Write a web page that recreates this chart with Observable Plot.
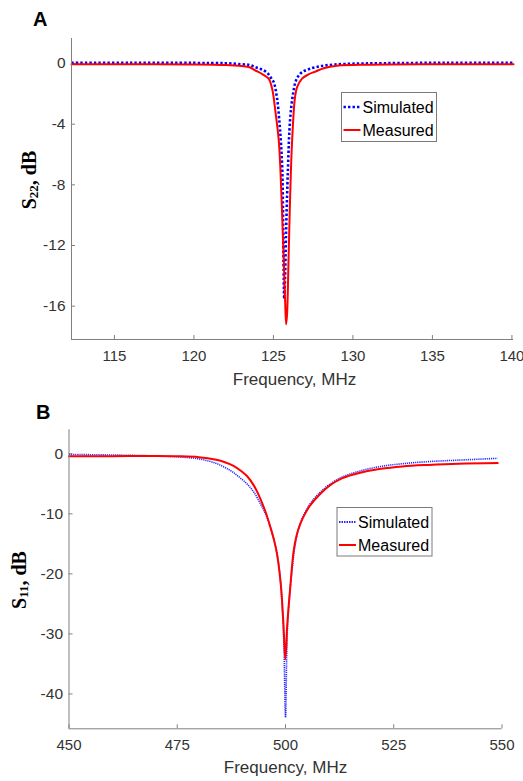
<!DOCTYPE html>
<html><head><meta charset="utf-8">
<script src="https://cdn.jsdelivr.net/npm/d3@7"></script>
<script src="https://cdn.jsdelivr.net/npm/@observablehq/plot@0.6"></script>
<style>
body{margin:0;background:#fff;}
#wrap{position:relative;width:523px;height:781px;overflow:hidden;background:#fff;}
#wrap svg{display:block;}
</style></head><body><div id="wrap"></div>
<script>
// ---------- Panel A data (S22) ----------
const aXTicks = [115, 120, 125, 130, 135, 140];
const aYTicks = [0, -4, -8, -12, -16];
const aSimFreq = [112.3, 116, 120, 122, 123, 123.5, 123.87, 124.2, 124.6, 124.85, 125.02, 125.23, 125.38, 125.47, 125.55, 125.6, 125.63, 125.68, 125.72, 125.8, 125.88, 125.93, 125.98, 126.05, 126.13, 126.25, 126.38, 126.55, 126.8, 127.2, 127.64, 128.3, 129.5, 132, 136, 140.1];
const aSim = [0.05, 0.05, 0.04, 0.02, -0.05, -0.1, -0.24, -0.36, -0.6, -0.95, -1.23, -2.3, -3.9, -5.2, -6.8, -9.5, -12.5, -15.5, -14.5, -11, -8, -6.5, -5.0, -3.7, -2.8, -1.9, -1.23, -0.85, -0.57, -0.38, -0.24, -0.12, -0.03, 0.02, 0.05, 0.05];
const aMeasFreq = [112.3, 116, 120, 122, 123, 123.5, 123.87, 124.3, 124.7, 124.92, 125.13, 125.33, 125.44, 125.55, 125.65, 125.73, 125.8, 125.86, 125.95, 126.02, 126.1, 126.18, 126.35, 126.49, 126.8, 127.2, 127.64, 128.17, 129, 131, 135, 140.1];
const aMeas = [-0.05, -0.05, -0.06, -0.1, -0.17, -0.25, -0.46, -0.7, -1.0, -1.67, -3.2, -5.0, -7.0, -10, -13, -15.5, -17.2, -16.5, -13, -10, -7.1, -5.0, -2.3, -1.56, -1.0, -0.72, -0.53, -0.31, -0.15, -0.08, -0.05, -0.05];

// ---------- Panel B data (S11) ----------
const bXTicks = [450, 475, 500, 525, 550];
const bYTicks = [0, -10, -20, -30, -40];
const bSimFreq = [450, 460, 470, 475, 480, 484, 487.3, 489, 491.1, 492.7, 494.2, 495.5, 496.5, 497.4, 498.05, 498.7, 499.2, 499.6, 500.0, 500.4, 500.9, 501.5, 502.2, 503.2, 504.5, 506, 508, 510, 513, 517, 522, 527, 533, 540, 549];
const bSim = [-0.1, -0.2, -0.35, -0.5, -0.85, -1.6, -2.8, -3.7, -5.0, -6.4, -8.3, -10.2, -12.2, -14.5, -16.7, -20, -25, -31, -43.9, -30, -24, -19.45, -15.3, -12, -9.8, -8.0, -6.4, -5.2, -3.9, -2.9, -2.1, -1.65, -1.3, -1.05, -0.75];
const bMeasFreq = [450, 460, 470, 475, 480, 484, 486, 488, 490, 491.1, 492.7, 494.2, 495.5, 496.5, 497.4, 498.05, 498.97, 499.5, 499.96, 500.4, 501.1, 501.9, 502.6, 503.4, 504.5, 505.7, 508, 510, 513, 517, 522, 527, 533, 540, 549];
const bMeas = [-0.4, -0.4, -0.35, -0.4, -0.56, -1.0, -1.4, -2.0, -3.0, -3.7, -5.3, -7.5, -9.9, -12.2, -14.5, -16.7, -22.2, -28, -34.2, -28.5, -22.2, -16.1, -13.5, -11.7, -10, -8.6, -6.7, -5.4, -4.1, -3.2, -2.5, -2.1, -1.85, -1.65, -1.55];

const seriesNames = ["Simulated", "Measured"];
const xLabelText = "Frequency, MHz";

const textColor = "#333";
const axisColor = "#808080";

function rows(fs, vs) { return fs.map((f, i) => ({f, v: vs[i]})); }

function panel(cfg) {
  const {width, height, margins, xDomain, yDomain, xTicks, yTicks, sim, meas, simStyle, measStyle} = cfg;
  const [mt, mr, mb, ml] = margins;
  const innerW = width - ml - mr, innerH = height - mt - mb;
  return Plot.plot({
    width, height, marginTop: mt, marginRight: mr, marginBottom: mb, marginLeft: ml,
    x: {domain: xDomain},
    y: {domain: yDomain},
    style: {fontFamily: "'Liberation Sans', Arial, sans-serif", fontSize: "15px", color: textColor, background: "white", overflow: "visible"},
    marks: [
      Plot.ruleX(xTicks, {stroke: axisColor, insetTop: innerH - 4}),
      Plot.ruleY(yTicks, {stroke: axisColor, insetRight: innerW - 4}),
      Plot.axisX(xTicks, {tickSize: 0, tickPadding: 11, label: null, fontSize: 15, fill: textColor, tickFormat: d => String(d)}),
      Plot.axisY(yTicks, {tickSize: 0, tickPadding: 6, label: null, fontSize: 15.5, fill: textColor, tickFormat: d => String(d)}),
      Plot.line(sim, {x: "f", y: "v", curve: "catmull-rom", strokeLinecap: "butt", strokeLinejoin: "round", ...simStyle}),
      Plot.line(meas, {x: "f", y: "v", curve: "catmull-rom", strokeLinejoin: "round", ...measStyle}),
      Plot.ruleX([xDomain[0]], {stroke: axisColor, strokeWidth: 1}),
      Plot.ruleY([yDomain[0]], {stroke: axisColor, strokeWidth: 1})
    ]
  });
}

function decorate(svgEl, d) {
  const svg = d3.select(svgEl);
  // panel letter
  svg.append("text").attr("x", d.letter[0]).attr("y", d.letter[1]).attr("text-anchor", "start")
    .attr("font-family", "'Liberation Sans', Arial, sans-serif").attr("font-weight", "bold")
    .attr("font-size", 20).attr("fill", "#000").text(d.letterText);
  // x label
  svg.append("text").attr("x", d.xLab[0]).attr("y", d.xLab[1])
    .attr("text-anchor", "middle").attr("font-family", "'Liberation Sans', Arial, sans-serif")
    .attr("font-size", 17).attr("fill", textColor).text(xLabelText);
  // y label with subscript
  const yl = svg.append("text")
    .attr("transform", `translate(${d.yLab[0]},${d.yLab[1]}) rotate(-90)`)
    .attr("text-anchor", "middle").attr("dominant-baseline", "central")
    .attr("font-family", "'Liberation Serif', 'Times New Roman', serif").attr("font-weight", "bold")
    .attr("font-size", 20).attr("fill", "#000");
  yl.append("tspan").text("S");
  yl.append("tspan").attr("font-size", 13).attr("dy", 4).text(d.sub);
  yl.append("tspan").attr("dy", -4).text(", dB");
  // legend
  const [lx, ly, lw, lh] = d.legend;
  const g = svg.append("g").attr("text-anchor", "start");
  g.append("rect").attr("x", lx).attr("y", ly).attr("width", lw).attr("height", lh)
    .attr("fill", "white").attr("stroke", "#7a7a7a").attr("stroke-width", 1);
  const styles = [d.simStyle, d.measStyle];
  seriesNames.forEach((name, i) => {
    const cy = d.legendRows[i];
    g.append("line").attr("x1", lx + 2).attr("x2", lx + 19).attr("y1", cy).attr("y2", cy)
      .attr("stroke", styles[i].stroke).attr("stroke-width", styles[i].legendWidth)
      .attr("stroke-dasharray", styles[i].legendDash || null);
    g.append("text").attr("x", lx + 21).attr("y", cy).attr("dominant-baseline", "central")
      .attr("text-anchor", "start")
      .attr("font-family", "'Liberation Sans', Arial, sans-serif").attr("font-size", 16)
      .attr("fill", "#000").text(name);
  });
}

const wrap = document.getElementById("wrap");

const aSimStyle = {stroke: "#0000ff", strokeWidth: 2.6, strokeDasharray: "2.4,2.1"};
const aMeasStyle = {stroke: "#ff0000", strokeWidth: 2};
const A = panel({
  width: 523, height: 390, margins: [38, 10, 51, 71],
  xDomain: [112.3, 140.1], yDomain: [-18.2, 1.65],
  xTicks: aXTicks, yTicks: aYTicks,
  sim: rows(aSimFreq, aSim), meas: rows(aMeasFreq, aMeas),
  simStyle: aSimStyle, measStyle: aMeasStyle
});
wrap.appendChild(A);
decorate(A, {
  letter: [33, 26], letterText: "A", xLab: [294.5, 385], yLab: [29, 180], sub: "22",
  legend: [341.5, 92.5, 95, 49], legendRows: [107, 130],
  simStyle: {stroke: "#0000ff", legendWidth: 2.6, legendDash: "2.4,2.1"},
  measStyle: {stroke: "#ff0000", legendWidth: 2}
});

const bSimStyle = {stroke: "#2a2aff", strokeWidth: 1.6, strokeDasharray: "1.2,0.9"};
const bMeasStyle = {stroke: "#ff0000", strokeWidth: 2};
const B = panel({
  width: 523, height: 391, margins: [39.3, 21.5, 52.7, 68.5],
  xDomain: [450, 550], yDomain: [-45.8, 4],
  xTicks: bXTicks, yTicks: bYTicks,
  sim: rows(bSimFreq, bSim), meas: rows(bMeasFreq, bMeas),
  simStyle: bSimStyle, measStyle: bMeasStyle
});
wrap.appendChild(B);
decorate(B, {
  letter: [36, 29], letterText: "B", xLab: [285.5, 383], yLab: [19, 190], sub: "11",
  legend: [337, 117.5, 95, 48.5], legendRows: [132, 155],
  simStyle: {stroke: "#2a2aff", legendWidth: 2, legendDash: "1.5,1"},
  measStyle: {stroke: "#ff0000", legendWidth: 2}
});
</script>
</body></html>
